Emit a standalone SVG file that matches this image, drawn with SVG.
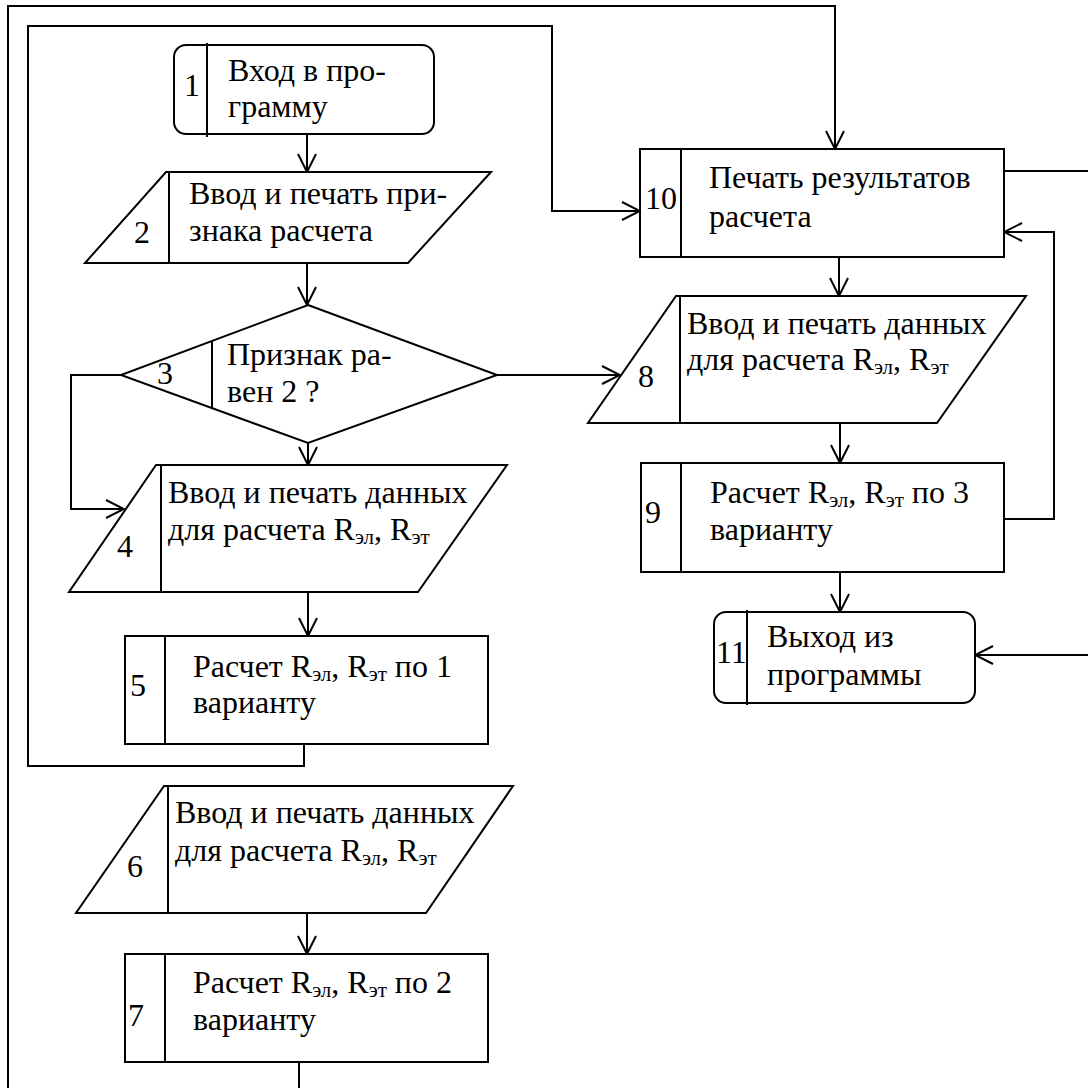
<svg xmlns="http://www.w3.org/2000/svg" width="1088" height="1088" viewBox="0 0 1088 1088">
<style>
.s{fill:#fff;stroke:#000;stroke-width:2}
.d{stroke:#000;stroke-width:2;fill:none}
.c path{stroke:#000;stroke-width:2;fill:none}
text{font-family:'Liberation Serif','Times New Roman',serif;font-size:32px;fill:#000}
.sb{font-size:21px}
</style>
<defs>
<marker id="a" viewBox="0 0 20 20" refX="19" refY="10" markerWidth="20" markerHeight="20" markerUnits="userSpaceOnUse" orient="auto">
<path d="M1,1 L19,10 L1,19" fill="none" stroke="#000" stroke-width="2"/>
</marker>
</defs>
<rect width="1088" height="1088" fill="#fff"/>
<g class="c" id="connectors">
<path d="M307,134 V172" marker-end="url(#a)"/>
<path d="M307,263 V305" marker-end="url(#a)"/>
<path d="M308,443 V465" marker-end="url(#a)"/>
<path d="M121,375 H71 V509 H124" marker-end="url(#a)"/>
<path d="M308,592 V636" marker-end="url(#a)"/>
<path d="M304,744 V766 H28 V26 H552 V211 H640" marker-end="url(#a)"/>
<path d="M307,913 V954" marker-end="url(#a)"/>
<path d="M299,1062 V1088"/>
<path d="M8,1088 V6 H835 V149" marker-end="url(#a)"/>
<path d="M497,375 H620" marker-end="url(#a)"/>
<path d="M839,257 V296" marker-end="url(#a)"/>
<path d="M840,423 V463" marker-end="url(#a)"/>
<path d="M1004,519 H1054 V232 H1004" marker-end="url(#a)"/>
<path d="M840,572 V612" marker-end="url(#a)"/>
<path d="M1004,171 H1088"/>
<path d="M1088,655 H975" marker-end="url(#a)"/>
</g>
<g id="n1">
<rect class="s" x="174" y="45" width="260" height="89" rx="12"/>
<path class="d" d="M207,43 V137"/>
<text x="184" y="96">1</text>
<text x="228" y="81">Вход в про-</text>
<text x="228" y="117">грамму</text>
</g>
<g id="n2">
<polygon class="s" points="166,172 491,172 408,263 85,263"/>
<path class="d" d="M169,172 V263"/>
<text x="134" y="243">2</text>
<text x="189" y="204">Ввод и печать при-</text>
<text x="189" y="241">знака расчета</text>
</g>
<g id="n3">
<polygon class="s" points="308,305 497,375 308,443 121,375"/>
<path class="d" d="M212,341 V409"/>
<text x="157" y="384">3</text>
<text x="227" y="365">Признак ра-</text>
<text x="227" y="402">вен 2 ?</text>
</g>
<g id="n4">
<polygon class="s" points="156,465 507,465 418,592 69,592"/>
<path class="d" d="M161,465 V592"/>
<text x="117" y="557">4</text>
<text x="168" y="503">Ввод и печать данных</text>
<text x="168" y="540">для расчета R<tspan class="sb" dy="4">эл</tspan><tspan dy="-4">, R</tspan><tspan class="sb" dy="4">эт</tspan></text>
</g>
<g id="n5">
<rect class="s" x="125" y="636" width="363" height="108"/>
<path class="d" d="M165,636 V744"/>
<text x="130" y="696">5</text>
<text x="193" y="677">Расчет R<tspan class="sb" dy="4">эл</tspan><tspan dy="-4">, R</tspan><tspan class="sb" dy="4">эт</tspan><tspan dy="-4"> по 1</tspan></text>
<text x="193" y="713">варианту</text>
</g>
<g id="n6">
<polygon class="s" points="164,786 513,786 426,913 76,913"/>
<path class="d" d="M168,786 V913"/>
<text x="127" y="877">6</text>
<text x="175" y="823">Ввод и печать данных</text>
<text x="175" y="861">для расчета R<tspan class="sb" dy="4">эл</tspan><tspan dy="-4">, R</tspan><tspan class="sb" dy="4">эт</tspan></text>
</g>
<g id="n7">
<rect class="s" x="125" y="954" width="363" height="108"/>
<path class="d" d="M165,954 V1062"/>
<text x="128" y="1026">7</text>
<text x="193" y="993">Расчет R<tspan class="sb" dy="4">эл</tspan><tspan dy="-4">, R</tspan><tspan class="sb" dy="4">эт</tspan><tspan dy="-4"> по 2</tspan></text>
<text x="193" y="1030">варианту</text>
</g>
<g id="n8">
<polygon class="s" points="676,296 1026,296 937,423 588,423"/>
<path class="d" d="M680,296 V423"/>
<text x="638" y="387">8</text>
<text x="687" y="334">Ввод и печать данных</text>
<text x="687" y="370">для расчета R<tspan class="sb" dy="4">эл</tspan><tspan dy="-4">, R</tspan><tspan class="sb" dy="4">эт</tspan></text>
</g>
<g id="n9">
<rect class="s" x="641" y="463" width="363" height="109"/>
<path class="d" d="M681,463 V572"/>
<text x="645" y="523">9</text>
<text x="710" y="503">Расчет R<tspan class="sb" dy="4">эл</tspan><tspan dy="-4">, R</tspan><tspan class="sb" dy="4">эт</tspan><tspan dy="-4"> по 3</tspan></text>
<text x="710" y="540">варианту</text>
</g>
<g id="n10">
<rect class="s" x="640" y="149" width="364" height="108"/>
<path class="d" d="M681,149 V257"/>
<text x="645" y="209">10</text>
<text x="709" y="188">Печать результатов</text>
<text x="709" y="227">расчета</text>
</g>
<g id="n11">
<rect class="s" x="714" y="612" width="261" height="91" rx="12"/>
<path class="d" d="M747,610 V705"/>
<text x="716" y="663">11</text>
<text x="767" y="647">Выход из</text>
<text x="767" y="685">программы</text>
</g>
</svg>
